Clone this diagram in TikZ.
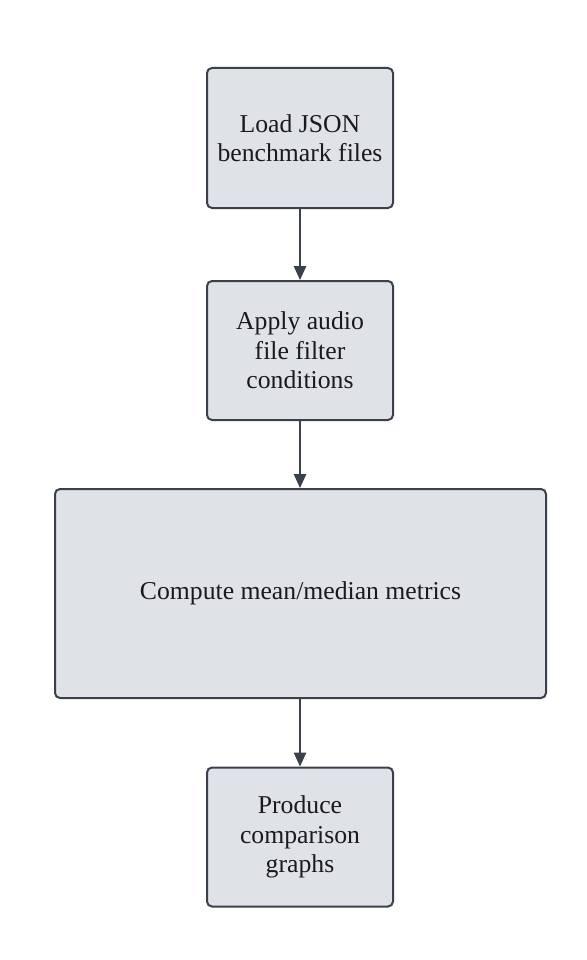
\documentclass[tikz,border=0pt]{standalone}
\usepackage{fontspec}
\setmainfont{Liberation Serif}
\usetikzlibrary{arrows.meta}
\definecolor{boxfill}{HTML}{DFE2E7}
\definecolor{boxline}{HTML}{3A414A}
\definecolor{txt}{HTML}{1A1A1A}
\tikzset{
  stepbox/.style={draw=boxline, fill=boxfill, line width=2pt, rounded corners=5pt,
    align=center, text=txt, font=\fontsize{25.7pt}{29.5pt}\selectfont, inner sep=0pt},
  conn/.style={draw=boxline, line width=1.4pt, -{Triangle[length=14pt,width=12.5pt]}}
}
\begin{document}
\begin{tikzpicture}[x=1pt,y=1pt]
\useasboundingbox (0,0) rectangle (586,-960);
\node[stepbox, minimum width=186pt, minimum height=140pt] (a) at (300,-138) {Load JSON\\benchmark files};
\node[stepbox, minimum width=186pt, minimum height=139pt] (b) at (300,-350.5) {Apply audio\\file filter\\conditions};
\node[stepbox, minimum width=491pt, minimum height=209pt] (c) at (300.5,-593.5) {Compute mean/median metrics};
\node[stepbox, minimum width=186pt, minimum height=139pt] (d) at (300,-837) {Produce\\comparison\\graphs};
\draw[conn] (a.south) -- (b.north);
\draw[conn] (b.south) -- (c.north -| b.south);
\draw[conn] (c.south -| d.north) -- (d.north);
\end{tikzpicture}
\end{document}
